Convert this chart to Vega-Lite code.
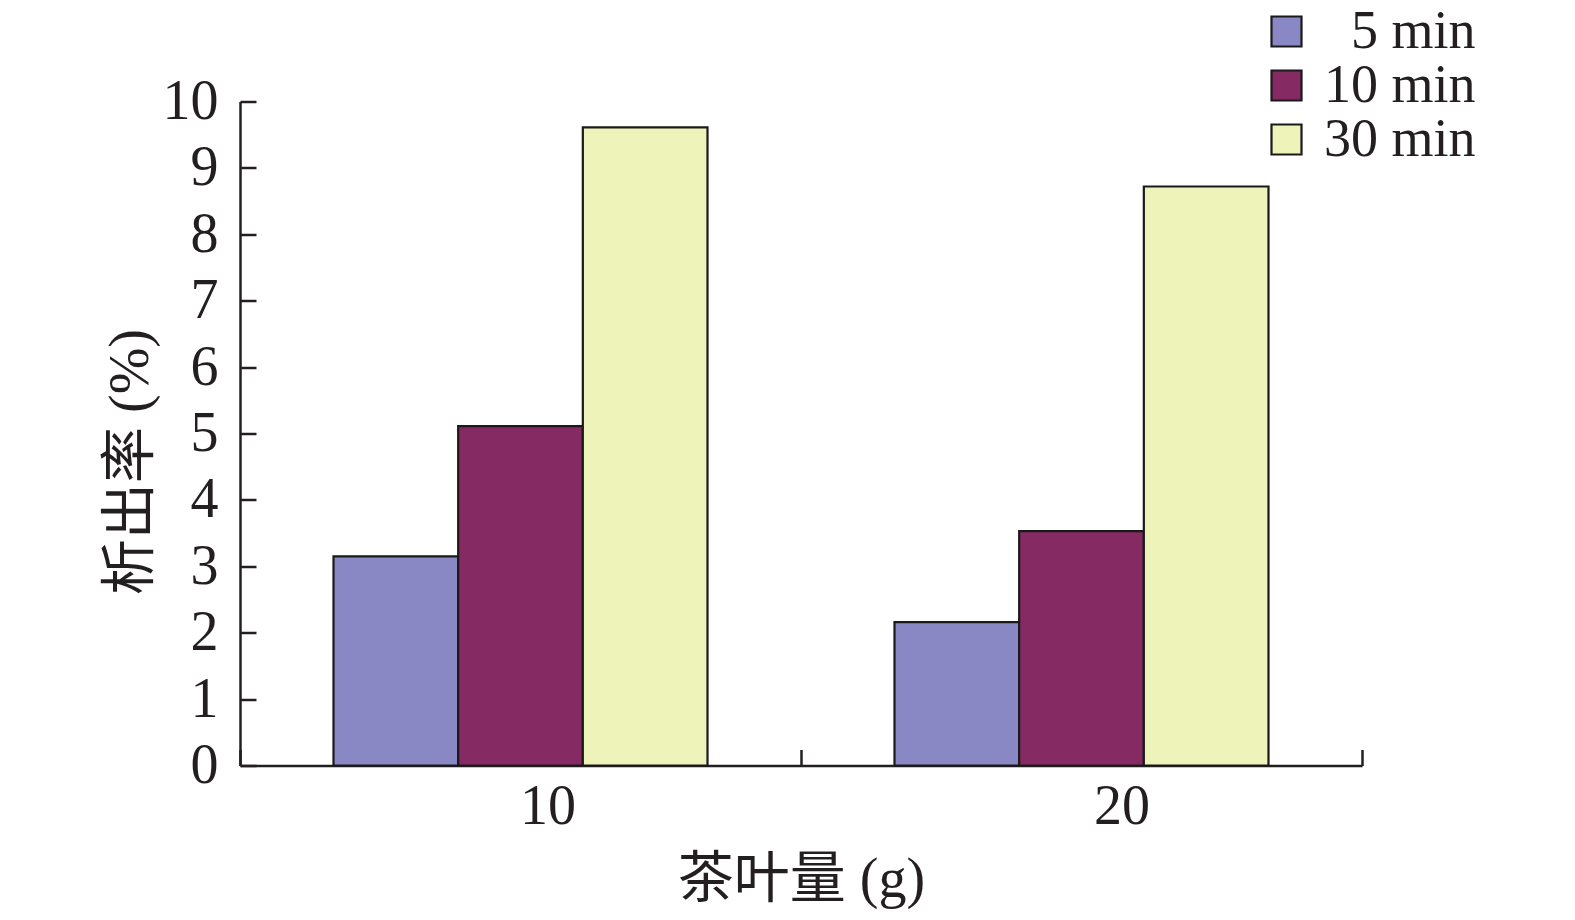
{
  "$schema": "https://vega.github.io/schema/vega-lite/v6.json",
  "width": 1122,
  "height": 664,
  "autosize": {"type": "none"},
  "padding": {"left": 240, "top": 101.5, "right": 213, "bottom": 154.5},
  "background": "white",
  "config": {"view": {"stroke": null}, "font": "Liberation Serif"},
  "data": {
    "values": [
      {"tea": "10", "time": "5 min", "rate": 3.15},
      {"tea": "10", "time": "10 min", "rate": 5.11},
      {"tea": "10", "time": "30 min", "rate": 9.61},
      {"tea": "20", "time": "5 min", "rate": 2.16},
      {"tea": "20", "time": "10 min", "rate": 3.53},
      {"tea": "20", "time": "30 min", "rate": 8.72}
    ]
  },
  "mark": {"type": "bar", "stroke": "#1a1a1a", "strokeWidth": 2.2},
  "encoding": {
    "x": {
      "field": "tea",
      "type": "nominal",
      "sort": ["10", "20"],
      "scale": {"paddingInner": 0, "paddingOuter": 0},
      "axis": {
        "title": "茶叶量 (g)",
        "labelAngle": 0,
        "tickBand": "extent",
        "tickSize": -16,
        "tickWidth": 2.5,
        "tickColor": "#231f20",
        "domainColor": "#231f20",
        "domainWidth": 2.5,
        "labelFont": "Liberation Serif",
        "labelFontSize": 56,
        "labelColor": "#231f20",
        "labelBaseline": "alphabetic",
        "labelPadding": 74,
        "labelOffset": {"condition": {"test": "datum.value == '20'", "value": 40}, "value": 27},
        "titleFont": "Liberation Serif, Noto Sans CJK SC",
        "titleFontSize": 56,
        "titleFontWeight": "normal",
        "titleColor": "#231f20",
        "titleBaseline": "alphabetic",
        "titleY": 131,
        "grid": false
      }
    },
    "xOffset": {
      "field": "time",
      "type": "nominal",
      "sort": ["5 min", "10 min", "30 min"],
      "scale": {"paddingInner": 0, "paddingOuter": 0.75}
    },
    "y": {
      "field": "rate",
      "type": "quantitative",
      "scale": {"domain": [0, 10], "nice": false},
      "axis": {
        "title": "析出率 (%)",
        "values": [0, 1, 2, 3, 4, 5, 6, 7, 8, 9, 10],
        "tickSize": -16,
        "tickWidth": 2.5,
        "tickColor": "#231f20",
        "domainColor": "#231f20",
        "domainWidth": 2.5,
        "labelFont": "Liberation Serif",
        "labelFontSize": 56,
        "labelColor": "#231f20",
        "labelPadding": 38,
        "titleFont": "Liberation Serif, Noto Sans CJK SC",
        "titleFontSize": 56,
        "titleFontWeight": "normal",
        "titleColor": "#231f20",
        "titleAngle": -90,
        "titleAlign": "center",
        "titleBaseline": "alphabetic",
        "titleX": -93,
        "titleY": 360,
        "grid": false
      }
    },
    "color": {
      "field": "time",
      "type": "nominal",
      "sort": ["5 min", "10 min", "30 min"],
      "scale": {"domain": ["5 min", "10 min", "30 min"], "range": ["#8987c4", "#862a63", "#edf3b9"]},
      "legend": {
        "orient": "none",
        "legendX": 1019.5,
        "legendY": -97,
        "title": null,
        "padding": 0,
        "symbolType": "square",
        "symbolSize": 900,
        "symbolStrokeColor": "#1a1a1a",
        "symbolStrokeWidth": 2.2,
        "symbolOpacity": 1,
        "labelFont": "Liberation Serif",
        "labelFontSize": 54,
        "labelColor": "#231f20",
        "labelOffset": 162,
        "labelAlign": "right",
        "labelLimit": 300,
        "rowPadding": 0
      }
    }
  }
}
